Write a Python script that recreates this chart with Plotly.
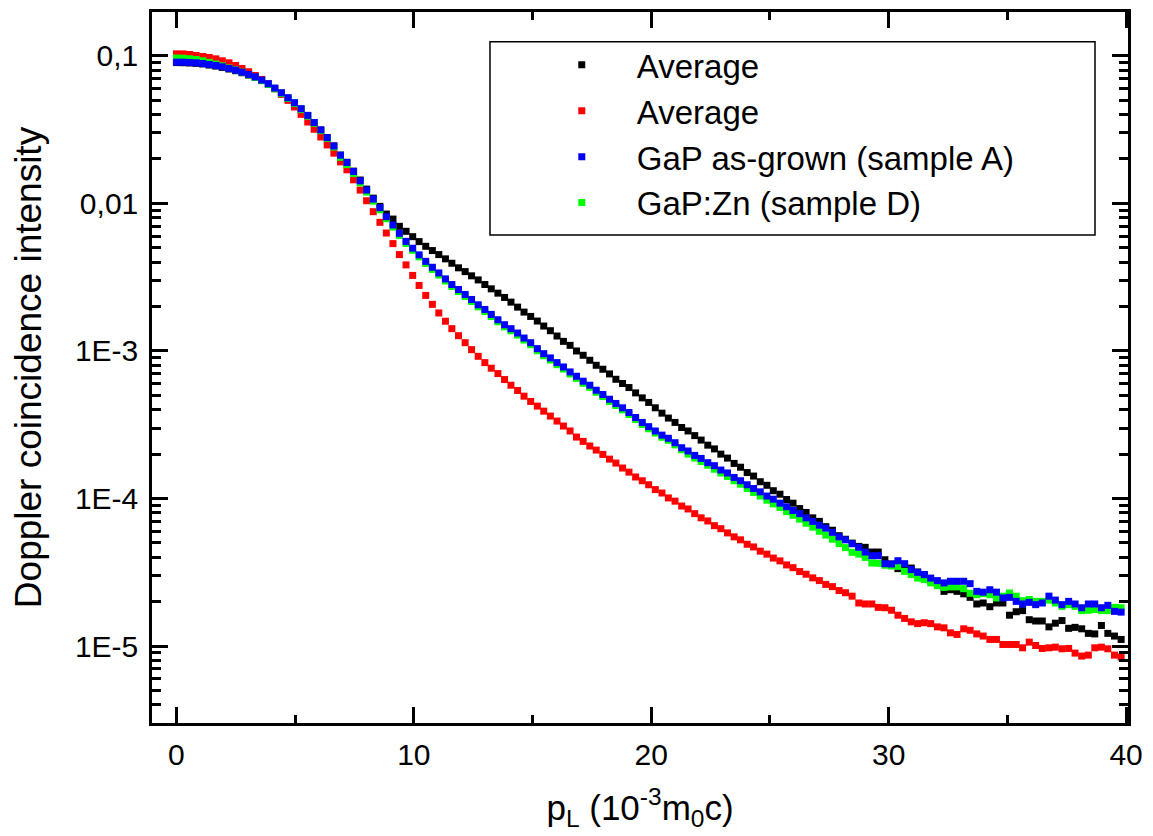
import plotly.graph_objects as go

# momentum channels p_L (10^-3 m0c)
p_l = [0.00, 0.28, 0.55, 0.83, 1.11, 1.38, 1.66, 1.93, 2.21, 2.49,
       2.76, 3.04, 3.32, 3.59, 3.87, 4.14, 4.42, 4.70, 4.97, 5.25,
       5.53, 5.80, 6.08, 6.35, 6.63, 6.91, 7.18, 7.46, 7.74, 8.01,
       8.29, 8.57, 8.84, 9.12, 9.39, 9.67, 9.95, 10.22, 10.50, 10.78,
       11.05, 11.33, 11.60, 11.88, 12.16, 12.43, 12.71, 12.99, 13.26, 13.54,
       13.82, 14.09, 14.37, 14.64, 14.92, 15.20, 15.47, 15.75, 16.03, 16.30,
       16.58, 16.85, 17.13, 17.41, 17.68, 17.96, 18.24, 18.51, 18.79, 19.06,
       19.34, 19.62, 19.89, 20.17, 20.45, 20.72, 21.00, 21.28, 21.55, 21.83,
       22.10, 22.38, 22.66, 22.93, 23.21, 23.49, 23.76, 24.04, 24.31, 24.59,
       24.87, 25.14, 25.42, 25.70, 25.97, 26.25, 26.52, 26.80, 27.08, 27.35,
       27.63, 27.91, 28.18, 28.46, 28.74, 29.01, 29.29, 29.56, 29.84, 30.12,
       30.39, 30.67, 30.95, 31.22, 31.50, 31.77, 32.05, 32.33, 32.60, 32.88,
       33.16, 33.43, 33.71, 33.98, 34.26, 34.54, 34.81, 35.09, 35.37, 35.64,
       35.92, 36.19, 36.47, 36.75, 37.02, 37.30, 37.58, 37.85, 38.13, 38.41,
       38.68, 38.96, 39.23, 39.51, 39.79]

avg_black = [0.0900, 0.0898, 0.0894, 0.0889, 0.0880, 0.0866, 0.0852, 0.0835, 0.0814, 0.0793,
             0.0768, 0.0741, 0.0715, 0.0680, 0.0642, 0.0601, 0.0559, 0.0517, 0.0478, 0.0436,
             0.0393, 0.0352, 0.0314, 0.0279, 0.0245, 0.02125, 0.01900, 0.01655, 0.01440, 0.01250,
             0.01085, 0.00955, 0.00847, 0.00783, 0.00699, 0.00647, 0.00595, 0.00551, 0.00512, 0.00479,
             0.00450, 0.00421, 0.00393, 0.00366, 0.00345, 0.00323, 0.00303, 0.00282, 0.002637, 0.002465,
             0.002305, 0.002143, 0.001982, 0.001834, 0.001714, 0.001595, 0.001475, 0.001372, 0.001263, 0.001162,
             0.001092, 0.001000, 9.35e-4, 8.65e-4, 8.00e-4, 7.52e-4, 6.99e-4, 6.43e-4, 6.02e-4, 5.65e-4,
             5.20e-4, 4.81e-4, 4.48e-4, 4.12e-4, 3.79e-4, 3.51e-4, 3.28e-4, 3.03e-4, 2.87e-4, 2.67e-4,
             2.49e-4, 2.30e-4, 2.17e-4, 2.00e-4, 1.88e-4, 1.73e-4, 1.63e-4, 1.50e-4, 1.42e-4, 1.30e-4,
             1.23e-4, 1.13e-4, 1.07e-4, 9.85e-5, 9.3e-5, 8.55e-5, 8.05e-5, 7.4e-5, 7.0e-5, 6.45e-5,
             6.1e-5, 5.6e-5, 5.3e-5, 4.99e-5, 4.74e-5, 4.67e-5, 4.34e-5, 4.34e-5, 3.85e-5, 3.60e-5,
             3.35e-5, 3.56e-5, 3.38e-5, 3.18e-5, 3.05e-5, 2.78e-5, 2.64e-5, 2.35e-5, 2.41e-5, 2.35e-5,
             2.26e-5, 2.14e-5, 1.93e-5, 1.96e-5, 1.85e-5, 1.96e-5, 1.96e-5, 1.62e-5, 1.71e-5, 1.74e-5,
             1.51e-5, 1.48e-5, 1.48e-5, 1.35e-5, 1.43e-5, 1.49e-5, 1.32e-5, 1.34e-5, 1.31e-5, 1.22e-5,
             1.21e-5, 1.38e-5, 1.22e-5, 1.17e-5, 1.11e-5]

avg_red = [0.1031, 0.1031, 0.1021, 0.1005, 0.0990, 0.0974, 0.0954, 0.0925, 0.0897, 0.0860,
           0.0821, 0.0780, 0.0736, 0.0692, 0.0647, 0.0598, 0.0548, 0.0499, 0.0450, 0.0401,
           0.0356, 0.0318, 0.0282, 0.0249, 0.0219, 0.01912, 0.01689, 0.01445, 0.01231, 0.01042,
           0.00879, 0.00744, 0.00630, 0.00534, 0.00450, 0.00383, 0.00325, 0.00278, 0.00238, 0.00207,
           0.00181, 0.00159, 0.001416, 0.001269, 0.001138, 0.001021, 9.20e-4, 8.34e-4, 7.64e-4, 7.03e-4,
           6.40e-4, 5.86e-4, 5.40e-4, 4.94e-4, 4.55e-4, 4.23e-4, 3.91e-4, 3.62e-4, 3.35e-4, 3.10e-4,
           2.87e-4, 2.61e-4, 2.44e-4, 2.27e-4, 2.13e-4, 1.99e-4, 1.85e-4, 1.74e-4, 1.61e-4, 1.51e-4,
           1.40e-4, 1.32e-4, 1.24e-4, 1.15e-4, 1.09e-4, 1.01e-4, 9.6e-5, 8.9e-5, 8.5e-5, 7.9e-5,
           7.4e-5, 7.05e-5, 6.55e-5, 6.25e-5, 5.85e-5, 5.5e-5, 5.25e-5, 4.9e-5, 4.7e-5, 4.4e-5,
           4.2e-5, 3.95e-5, 3.78e-5, 3.55e-5, 3.4e-5, 3.2e-5, 3.07e-5, 2.9e-5, 2.78e-5, 2.62e-5,
           2.53e-5, 2.38e-5, 2.3e-5, 2.18e-5, 1.96e-5, 1.93e-5, 1.93e-5, 1.83e-5, 1.82e-5, 1.75e-5,
           1.62e-5, 1.54e-5, 1.46e-5, 1.42e-5, 1.44e-5, 1.42e-5, 1.35e-5, 1.33e-5, 1.23e-5, 1.20e-5,
           1.31e-5, 1.28e-5, 1.21e-5, 1.17e-5, 1.11e-5, 1.11e-5, 1.026e-5, 1.026e-5, 1.026e-5, 9.74e-6,
           1.064e-5, 1.01e-5, 9.64e-6, 9.74e-6, 9.84e-6, 9.59e-6, 9.64e-6, 8.97e-6, 8.56e-6, 8.69e-6,
           9.74e-6, 9.84e-6, 9.59e-6, 8.69e-6, 8.43e-6]

gap_a = [0.0906, 0.0906, 0.0902, 0.0897, 0.0888, 0.0874, 0.0860, 0.0843, 0.0821, 0.0800,
         0.0775, 0.0748, 0.0721, 0.0685, 0.0647, 0.0605, 0.0562, 0.0520, 0.0481, 0.0438,
         0.0395, 0.0353, 0.0315, 0.0279, 0.0245, 0.02121, 0.01892, 0.01645, 0.01422, 0.01231,
         0.01070, 0.00935, 0.00813, 0.00714, 0.00627, 0.00553, 0.00497, 0.00448, 0.00405, 0.00369,
         0.00338, 0.00308, 0.00282, 0.00261, 0.002415, 0.002234, 0.002056, 0.001912, 0.001769, 0.001628,
         0.001506, 0.001416, 0.001323, 0.001224, 0.001138, 0.001037, 9.59e-4, 8.97e-4, 8.34e-4, 7.79e-4,
         7.21e-4, 6.74e-4, 6.24e-4, 5.86e-4, 5.42e-4, 5.07e-4, 4.71e-4, 4.41e-4, 4.12e-4, 3.83e-4,
         3.54e-4, 3.28e-4, 3.07e-4, 2.87e-4, 2.69e-4, 2.56e-4, 2.39e-4, 2.21e-4, 2.10e-4, 1.96e-4,
         1.87e-4, 1.75e-4, 1.67e-4, 1.56e-4, 1.49e-4, 1.39e-4, 1.32e-4, 1.24e-4, 1.17e-4, 1.11e-4,
         1.04e-4, 9.9e-5, 9.3e-5, 8.8e-5, 8.3e-5, 7.9e-5, 7.4e-5, 7.0e-5, 6.6e-5, 6.3e-5,
         5.9e-5, 5.5e-5, 5.25e-5, 4.94e-5, 4.67e-5, 4.34e-5, 4.10e-5, 4.10e-5, 3.62e-5, 3.60e-5,
         3.79e-5, 3.62e-5, 3.30e-5, 3.16e-5, 3.05e-5, 2.89e-5, 2.78e-5, 2.68e-5, 2.75e-5, 2.75e-5,
         2.75e-5, 2.65e-5, 2.35e-5, 2.32e-5, 2.41e-5, 2.32e-5, 2.12e-5, 2.14e-5, 2.01e-5, 1.93e-5,
         1.98e-5, 1.91e-5, 1.96e-5, 2.18e-5, 2.05e-5, 1.91e-5, 2.01e-5, 1.93e-5, 1.82e-5, 1.93e-5,
         1.93e-5, 1.82e-5, 1.89e-5, 1.72e-5, 1.70e-5]

gap_zn_d = [0.0967, 0.0964, 0.0955, 0.0944, 0.0925, 0.0903, 0.0880, 0.0856, 0.0828, 0.0804,
            0.0775, 0.0744, 0.0716, 0.0679, 0.0640, 0.0598, 0.0555, 0.0514, 0.0475, 0.0432,
            0.0390, 0.0349, 0.0311, 0.0275, 0.0241, 0.02053, 0.01832, 0.01592, 0.01376, 0.01192,
            0.01036, 0.00905, 0.00787, 0.00691, 0.00607, 0.00535, 0.00481, 0.00434, 0.00392, 0.00357,
            0.00327, 0.00298, 0.00273, 0.002526, 0.002338, 0.002163, 0.00199, 0.001851, 0.001712, 0.001576,
            0.001458, 0.001371, 0.001281, 0.001185, 0.001102, 0.001004, 9.28e-4, 8.68e-4, 8.07e-4, 7.54e-4,
            6.98e-4, 6.52e-4, 6.04e-4, 5.67e-4, 5.25e-4, 4.91e-4, 4.56e-4, 4.27e-4, 3.99e-4, 3.71e-4,
            3.43e-4, 3.17e-4, 2.97e-4, 2.78e-4, 2.60e-4, 2.48e-4, 2.31e-4, 2.14e-4, 2.00e-4, 1.88e-4,
            1.78e-4, 1.68e-4, 1.58e-4, 1.49e-4, 1.41e-4, 1.32e-4, 1.25e-4, 1.17e-4, 1.10e-4, 1.04e-4,
            9.75e-5, 9.2e-5, 8.7e-5, 8.15e-5, 7.7e-5, 7.25e-5, 6.8e-5, 6.4e-5, 6.0e-5, 5.65e-5,
            5.3e-5, 4.95e-5, 4.65e-5, 4.32e-5, 4.20e-5, 3.99e-5, 3.66e-5, 3.64e-5, 3.53e-5, 3.49e-5,
            3.47e-5, 3.21e-5, 3.05e-5, 2.89e-5, 2.82e-5, 2.68e-5, 2.57e-5, 2.50e-5, 2.52e-5, 2.52e-5,
            2.45e-5, 2.28e-5, 2.23e-5, 2.27e-5, 2.23e-5, 2.12e-5, 2.18e-5, 2.29e-5, 2.18e-5, 2.03e-5,
            2.07e-5, 2.01e-5, 2.01e-5, 2.05e-5, 1.96e-5, 1.86e-5, 1.91e-5, 1.86e-5, 1.74e-5, 1.75e-5,
            1.77e-5, 1.74e-5, 1.74e-5, 1.83e-5, 1.82e-5]

y_ticks = [0.1, 0.01, 1e-3, 1e-4, 1e-5]
y_tick_text = ["0,1", "0,01", "1E-3", "1E-4", "1E-5"]
x_ticks = [0, 10, 20, 30, 40]

FONT = "Liberation Sans, Arial, sans-serif"

# minor log ticks 2..9 in each decade
y_minor = [m * 10.0 ** e for e in range(-6, 0) for m in range(2, 10)]

fig = go.Figure()

# drawing order: blue on top of green, legend order kept with legendrank
series = [
    ("Average", avg_black, "#000000", 1),
    ("Average", avg_red, "#ff0000", 2),
    ("GaP:Zn (sample D)", gap_zn_d, "#00ff00", 4),
    ("GaP as-grown (sample A)", gap_a, "#0000ff", 3),
]
for name, vals, col, rank in series:
    fig.add_trace(go.Scatter(
        x=p_l, y=vals, name=name, mode="markers",
        marker=dict(symbol="square", size=7, color=col, line=dict(width=0)),
        legendrank=rank,
    ))

# page has an 8px body margin, so the figure is shrunk by 8px
fig.update_layout(
    width=1145, height=828,
    margin=dict(l=144, r=25, t=1, b=113),
    paper_bgcolor="white", plot_bgcolor="white",
    font=dict(family=FONT, color="black", size=30),
    showlegend=True,
    legend=dict(
        x=0.384, xanchor="left", y=0.965, yanchor="top",
        bgcolor="rgba(0,0,0,0)", borderwidth=0,
        font=dict(size=33, family=FONT),
        itemwidth=100, tracegroupgap=0,
    ),
)

fig.add_shape(type="rect", xref="paper", yref="paper",
              x0=0.3463, x1=0.9662, y0=0.6863, y1=0.958,
              line=dict(color="black", width=1.5))

fig.update_xaxes(
    range=[-1.03, 40.08], showgrid=False, zeroline=False,
    showline=True, linecolor="black", linewidth=2.5, mirror="allticks",
    ticks="inside", ticklen=16, tickwidth=2.5, tickcolor="black",
    tickvals=x_ticks, tickfont=dict(size=30), ticklabelstandoff=3,
    minor=dict(ticks="inside", ticklen=8, tickwidth=2.5, tickcolor="black",
               tickvals=[5, 15, 25, 35]),
    title=dict(text="p<sub>L</sub> (10<sup>-3</sup>m<sub>0</sub>c)",
               font=dict(size=35), standoff=26),
)

fig.update_yaxes(
    type="log", range=[-5.521, -0.703], showgrid=False, zeroline=False,
    showline=True, linecolor="black", linewidth=2.5, mirror="allticks",
    ticks="inside", ticklen=16, tickwidth=2.5, tickcolor="black",
    tickvals=y_ticks, ticktext=y_tick_text, tickfont=dict(size=30),
    ticklabelstandoff=5,
    minor=dict(ticks="inside", ticklen=9, tickwidth=2.5, tickcolor="black",
               tickvals=y_minor),
    title=dict(text="Doppler coincidence intensity", font=dict(size=37), standoff=22),
)

fig.write_html("out.html")
